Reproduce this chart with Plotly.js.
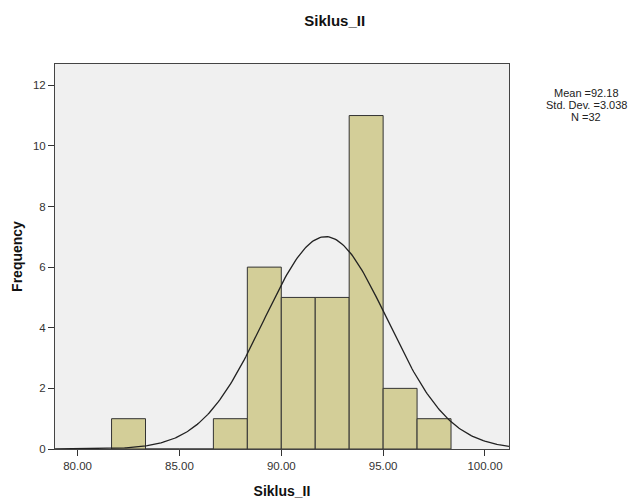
<!DOCTYPE html>
<html><head><meta charset="utf-8">
<script src="https://cdn.plot.ly/plotly-3.0.1.min.js"></script>
<style>body{margin:0;background:#fff}#c{width:635px;height:504px}</style>
</head><body><div id="c"></div>
<script>
var binStarts = [81.6667, 83.3333, 85.0, 86.6667, 88.3333, 90.0, 91.6667, 93.3333, 95.0, 96.6667];
var counts = [1, 0, 0, 1, 6, 5, 5, 11, 2, 1];
var binWidth = 5/3;
var meanVal = 92.18, sdVal = 3.038, nVal = 32;
var xTickVals = [80, 85, 90, 95, 100];
var xTickText = ["80.00", "85.00", "90.00", "95.00", "100.00"];
var yTickVals = [0, 2, 4, 6, 8, 10, 12];
var statLines = ['Mean =' + meanVal.toFixed(2), 'Std. Dev. =' + sdVal.toFixed(3), 'N =' + nVal];

var xr = [78.89, 101.18];
var centers = binStarts.map(function(s){return s + binWidth/2;});
var cx = [], cy = [];
for (var i = 0; i <= 300; i++) {
  var x = xr[0] + (xr[1]-xr[0])*i/300;
  cx.push(x);
  cy.push(nVal*binWidth/(sdVal*Math.sqrt(2*Math.PI))*Math.exp(-0.5*Math.pow((x-meanVal)/sdVal,2)));
}
var font = "Liberation Sans, Arial, sans-serif";
var data = [
  {type:'bar', x:centers, y:counts, width:binWidth,
   marker:{color:'#D3CE98', line:{color:'#333333', width:1}}, hoverinfo:'none'},
  {type:'scatter', mode:'lines', x:cx, y:cy, line:{color:'#222222', width:1.3}, hoverinfo:'none'}
];
var annYs = [0.9247, 0.8935, 0.8623];
var anns = statLines.map(function(t, k){
  return {xref:'paper', yref:'paper', x:1.17, y:annYs[k], xanchor:'center', yanchor:'middle', showarrow:false,
    text:t, font:{size:11, color:'#222', family:font}};
});
var layout = {
  width:635, height:504, showlegend:false,
  margin:{l:55, r:126, t:64, b:55},
  paper_bgcolor:'#ffffff', plot_bgcolor:'#F0F0F0',
  font:{family:font, color:'#333'},
  bargap:0,
  title:{text:'<b>Siklus_II</b>', font:{size:15, color:'#111', family:font}, xref:'container', x:0.527, xanchor:'center', yref:'container', y:0.958, yanchor:'middle'},
  xaxis:{range:xr, tickvals:xTickVals, ticktext:xTickText, ticks:'outside', ticklen:6, tickcolor:'#333',
    showgrid:false, zeroline:false, showline:true, linecolor:'#444', linewidth:1, mirror:true,
    tickfont:{size:11.5, color:'#333'},
    title:{text:'<b>Siklus_II</b>', font:{size:14, color:'#111'}, standoff:15}},
  yaxis:{range:[0,12.7], tickvals:yTickVals, ticks:'outside', ticklen:6, tickcolor:'#333',
    showgrid:false, zeroline:false, showline:true, linecolor:'#444', linewidth:1, mirror:true,
    tickfont:{size:11.5, color:'#333'},
    title:{text:'<b>Frequency</b>', font:{size:14, color:'#111'}, standoff:7}},
  annotations:anns
};
Plotly.newPlot('c', data, layout, {displayModeBar:false, staticPlot:true});
</script></body></html>
